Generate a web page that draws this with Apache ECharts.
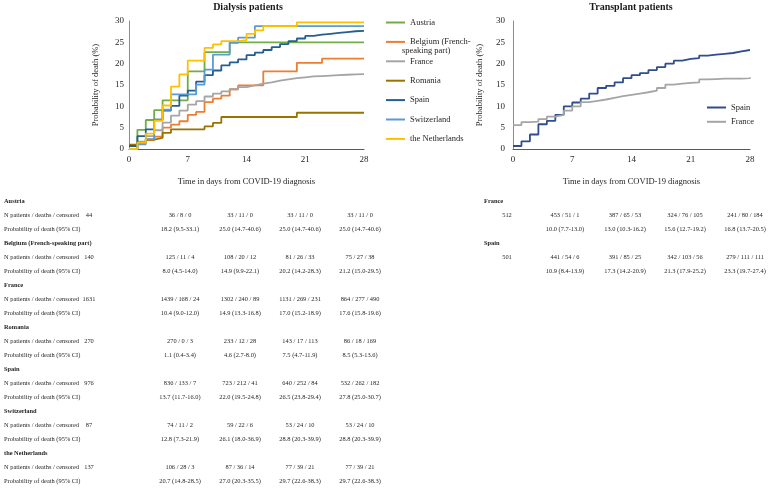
<!DOCTYPE html>
<html>
<head>
<meta charset="utf-8">
<script src="https://cdn.jsdelivr.net/npm/echarts@6/dist/echarts.min.js"></script>
<style>
  html, body { margin: 0; padding: 0; background: #fff; }
  #main { width: 777px; height: 490px; }
</style>
</head>
<body>
<div id="main"></div>
<script>
// days from COVID-19 diagnosis
const days = [0, 1, 2, 3, 4, 5, 6, 7, 8, 9, 10, 11, 12, 13, 14, 15, 16, 17, 18, 19, 20, 21, 22, 23, 24, 25, 26, 27, 28];

// dialysis patients, probability of death (%) per day
const austria = [0, 4.5, 6.8, 9.1, 11.4, 11.4, 11.4, 18.2, 18.2, 22.7, 22.7, 22.7, 25.0, 25.0, 25.0, 25.0, 25.0, 25.0, 25.0, 25.0, 25.0, 25.0, 25.0, 25.0, 25.0, 25.0, 25.0, 25.0, 25.0];
const belgium = [0, 1.4, 2.1, 2.9, 5.0, 5.7, 6.5, 8.0, 8.7, 11.0, 11.8, 12.5, 14.0, 14.9, 14.9, 14.9, 18.2, 18.2, 18.2, 18.2, 20.2, 20.2, 20.2, 21.2, 21.2, 21.2, 21.2, 21.2, 21.2];
const franceD = [0.8, 1.7, 3.0, 4.4, 6.2, 7.8, 9.0, 10.4, 11.2, 12.3, 13.0, 13.5, 14.0, 14.5, 14.9, 15.3, 15.6, 16.0, 16.3, 16.6, 16.8, 17.0, 17.1, 17.2, 17.3, 17.4, 17.5, 17.55, 17.6];
const romania = [1.0, 1.5, 2.2, 2.6, 3.8, 4.6, 4.6, 4.6, 4.6, 5.3, 6.1, 7.5, 7.5, 7.5, 7.5, 7.5, 7.5, 7.5, 7.5, 7.5, 8.5, 8.5, 8.5, 8.5, 8.5, 8.5, 8.5, 8.5, 8.5];
const spainD = [0.7, 3.0, 4.6, 6.9, 9.0, 10.1, 12.5, 13.7, 15.8, 17.3, 18.4, 19.6, 20.3, 21.0, 22.0, 22.6, 23.2, 23.9, 24.6, 25.3, 25.9, 26.5, 26.8, 27.0, 27.2, 27.4, 27.6, 27.7, 27.8];
const switzerland = [0, 1.1, 2.3, 6.9, 9.2, 12.8, 12.8, 12.8, 15.1, 18.6, 22.1, 22.1, 24.9, 26.1, 26.1, 28.8, 28.8, 28.8, 28.8, 28.8, 28.8, 28.8, 28.8, 28.8, 28.8, 28.8, 28.8, 28.8, 28.8];
const netherlands = [0, 1.5, 3.6, 6.6, 10.2, 14.6, 17.5, 20.7, 20.7, 23.7, 24.5, 25.3, 25.3, 25.5, 27.0, 27.8, 28.8, 28.8, 28.8, 28.8, 29.7, 29.7, 29.7, 29.7, 29.7, 29.7, 29.7, 29.7, 29.7];

// transplant patients
const spainT = [0.7, 1.8, 3.4, 5.8, 6.6, 8.0, 10.0, 10.9, 11.8, 13.0, 14.3, 14.8, 15.6, 16.6, 17.3, 17.8, 18.5, 19.2, 20.0, 20.7, 21.1, 21.3, 21.9, 22.1, 22.3, 22.5, 22.9, 23.2, 23.3];
const franceT = [5.6, 6.3, 6.4, 7.0, 7.6, 8.0, 9.0, 10.0, 11.0, 11.3, 11.6, 12.0, 12.4, 12.7, 13.0, 13.3, 13.7, 14.3, 15.1, 15.3, 15.5, 15.6, 16.3, 16.4, 16.5, 16.5, 16.5, 16.6, 16.8];

const dialysisNames = ["Austria", "Belgium (French-speaking part)", "France", "Romania", "Spain", "Switzerland", "the Netherlands"];
const dialysisColors = ["#70ad47", "#ed7d31", "#a5a5a5", "#997300", "#255e91", "#5b9bd5", "#ffc000"];
const dialysisValues = [austria, belgium, franceD, romania, spainD, switzerland, netherlands];

// tables
const rowLabels = ["N patients / deaths / censored", "Probability of death (95% CI)"];
const dialysisN = ["44", "140", "1631", "270", "976", "87", "137"];
const dialysisCounts = [
  ["36 / 8 / 0", "33 / 11 / 0", "33 / 11 / 0", "33 / 11 / 0"],
  ["125 / 11 / 4", "108 / 20 / 12", "81 / 26 / 33", "75 / 27 / 38"],
  ["1439 / 168 / 24", "1302 / 240 / 89", "1131 / 269 / 231", "864 / 277 / 490"],
  ["270 / 0 / 3", "233 / 12 / 28", "143 / 17 / 113", "86 / 18 / 169"],
  ["836 / 133 / 7", "723 / 212 / 41", "640 / 252 / 84", "532 / 262 / 182"],
  ["74 / 11 / 2", "59 / 22 / 6", "53 / 24 / 10", "53 / 24 / 10"],
  ["106 / 28 / 3", "87 / 36 / 14", "77 / 39 / 21", "77 / 39 / 21"]
];
const dialysisProb = [
  ["18.2 (9.5-33.1)", "25.0 (14.7-40.6)", "25.0 (14.7-40.6)", "25.0 (14.7-40.6)"],
  ["8.0 (4.5-14.0)", "14.9 (9.9-22.1)", "20.2 (14.2-28.3)", "21.2 (15.0-29.5)"],
  ["10.4 (9.0-12.0)", "14.9 (13.3-16.8)", "17.0 (15.2-18.9)", "17.6 (15.8-19.6)"],
  ["1.1 (0.4-3.4)", "4.6 (2.7-8.0)", "7.5 (4.7-11.9)", "8.5 (5.3-13.6)"],
  ["13.7 (11.7-16.0)", "22.0 (19.5-24.8)", "26.5 (23.8-29.4)", "27.8 (25.0-30.7)"],
  ["12.8 (7.3-21.9)", "26.1 (18.0-36.9)", "28.8 (20.3-39.9)", "28.8 (20.3-39.9)"],
  ["20.7 (14.8-28.5)", "27.0 (20.3-35.5)", "29.7 (22.6-38.3)", "29.7 (22.6-38.3)"]
];
const transplantNames = ["France", "Spain"];
const transplantN = ["512", "501"];
const transplantCounts = [
  ["453 / 51 / 1", "387 / 65 / 53", "324 / 76 / 105", "241 / 80 / 184"],
  ["441 / 54 / 6", "391 / 85 / 25", "342 / 103 / 56", "279 / 111 / 111"]
];
const transplantProb = [
  ["10.0 (7.7-13.0)", "13.0 (10.3-16.2)", "15.6 (12.7-19.2)", "16.8 (13.7-20.5)"],
  ["10.9 (8.4-13.9)", "17.3 (14.2-20.9)", "21.3 (17.9-25.2)", "23.3 (19.7-27.4)"]
];

const FONT = "'Liberation Serif', 'Times New Roman', serif";
const TXT = "#262626";
const TABLE_FONT = 6.4;

const pairs = (vals) => days.map((d, i) => [d, vals[i]]);

const makeX = (gridIndex) => ({
  type: "value",
  gridIndex: gridIndex,
  min: 0,
  max: 28,
  interval: 7,
  name: "Time in days from COVID-19 diagnosis",
  nameLocation: "middle",
  nameGap: 28,
  nameTextStyle: { fontFamily: FONT, fontSize: 8.5, color: TXT },
  axisLine: { lineStyle: { color: "#595959", width: 1 } },
  axisTick: { show: false },
  splitLine: { show: false },
  axisLabel: { fontFamily: FONT, fontSize: 9, color: TXT, margin: 6 }
});

const makeY = (gridIndex, margin) => ({
  type: "value",
  gridIndex: gridIndex,
  min: 0,
  max: 30,
  interval: 5,
  name: "Probability of death (%)",
  nameLocation: "middle",
  nameRotate: 90,
  nameGap: 29,
  nameTextStyle: { fontFamily: FONT, fontSize: 8.5, color: TXT },
  axisLine: { show: true, lineStyle: { color: "#8c8c8c", width: 1 } },
  axisTick: { show: false },
  splitLine: { show: false },
  axisLabel: { fontFamily: FONT, fontSize: 9, color: TXT, margin: margin }
});

const series = [];
dialysisNames.forEach((name, i) => {
  series.push({
    name: name,
    type: "line",
    step: "end",
    xAxisIndex: 0,
    yAxisIndex: 0,
    symbol: "none",
    data: pairs(dialysisValues[i]),
    lineStyle: { color: dialysisColors[i], width: 1.8 },
    itemStyle: { color: dialysisColors[i] }
  });
});
series.push({
  name: "Spain ",
  type: "line",
  step: "end",
  xAxisIndex: 1,
  yAxisIndex: 1,
  symbol: "none",
  data: pairs(spainT),
  lineStyle: { color: "#2f4d8f", width: 1.8 },
  itemStyle: { color: "#2f4d8f" }
});
series.push({
  name: "France ",
  type: "line",
  step: "end",
  xAxisIndex: 1,
  yAxisIndex: 1,
  symbol: "none",
  data: pairs(franceT),
  lineStyle: { color: "#a5a5a5", width: 1.8 },
  itemStyle: { color: "#a5a5a5" }
});

// tables as text
const graphics = [];
const addText = (x, y, text, align, bold) => {
  graphics.push({
    type: "text",
    x: x,
    y: y,
    style: {
      text: text,
      fill: TXT,
      font: (bold ? "bold " : "") + TABLE_FONT + "px " + FONT,
      align: align,
      verticalAlign: "middle"
    }
  });
};

const rowTop = 201;
const rowStep = 14;
const leftCols = [180, 240, 300, 360];
dialysisNames.forEach((name, i) => {
  const y0 = rowTop + i * 3 * rowStep;
  addText(4, y0, name, "left", true);
  addText(4, y0 + rowStep, rowLabels[0], "left", false);
  addText(4, y0 + 2 * rowStep, rowLabels[1], "left", false);
  addText(89, y0 + rowStep, dialysisN[i], "center", false);
  leftCols.forEach((cx, j) => {
    addText(cx, y0 + rowStep, dialysisCounts[i][j], "center", false);
    addText(cx, y0 + 2 * rowStep, dialysisProb[i][j], "center", false);
  });
});

const rightCols = [565, 625, 685, 745];
transplantNames.forEach((name, i) => {
  const y0 = rowTop + i * 3 * rowStep;
  addText(484, y0, name, "left", true);
  addText(507, y0 + rowStep, transplantN[i], "center", false);
  rightCols.forEach((cx, j) => {
    addText(cx, y0 + rowStep, transplantCounts[i][j], "center", false);
    addText(cx, y0 + 2 * rowStep, transplantProb[i][j], "center", false);
  });
});

// panel titles
graphics.push({
  type: "text", x: 248, y: 7,
  style: { text: "Dialysis patients", fill: "#1a1a1a", font: "bold 10px " + FONT, align: "center", verticalAlign: "middle" }
});
graphics.push({
  type: "text", x: 631, y: 7,
  style: { text: "Transplant patients", fill: "#1a1a1a", font: "bold 10px " + FONT, align: "center", verticalAlign: "middle" }
});
// second line of the Belgium legend entry
graphics.push({
  type: "text", x: 402, y: 50.7,
  style: { text: "speaking part)", fill: TXT, font: "8.5px " + FONT, align: "left", verticalAlign: "middle" }
});

const legendText = { fontFamily: FONT, fontSize: 8.5, color: TXT, lineHeight: 10 };

const option = {
  backgroundColor: "#fff",
  animation: false,
  grid: [
    { left: 129, top: 21, width: 235, height: 128 },
    { left: 513, top: 21, width: 237, height: 128 }
  ],
  xAxis: [makeX(0), makeX(1)],
  yAxis: [makeY(0, 5), makeY(1, 8)],
  legend: [
    {
      data: dialysisNames,
      orient: "vertical",
      left: 381,
      top: 12.5,
      icon: "rect",
      itemWidth: 19,
      itemHeight: 2,
      itemGap: 9.4,
      textStyle: legendText,
      formatter: (name) => (name === "Belgium (French-speaking part)" ? "Belgium (French-" : name)
    },
    {
      data: ["Spain ", "France "],
      orient: "vertical",
      left: 702,
      top: 97.5,
      icon: "rect",
      itemWidth: 19,
      itemHeight: 2,
      itemGap: 4.3,
      textStyle: legendText
    }
  ],
  series: series,
  graphic: graphics
};

const myChart = echarts.init(document.getElementById("main"));
myChart.setOption(option);
</script>
</body>
</html>
